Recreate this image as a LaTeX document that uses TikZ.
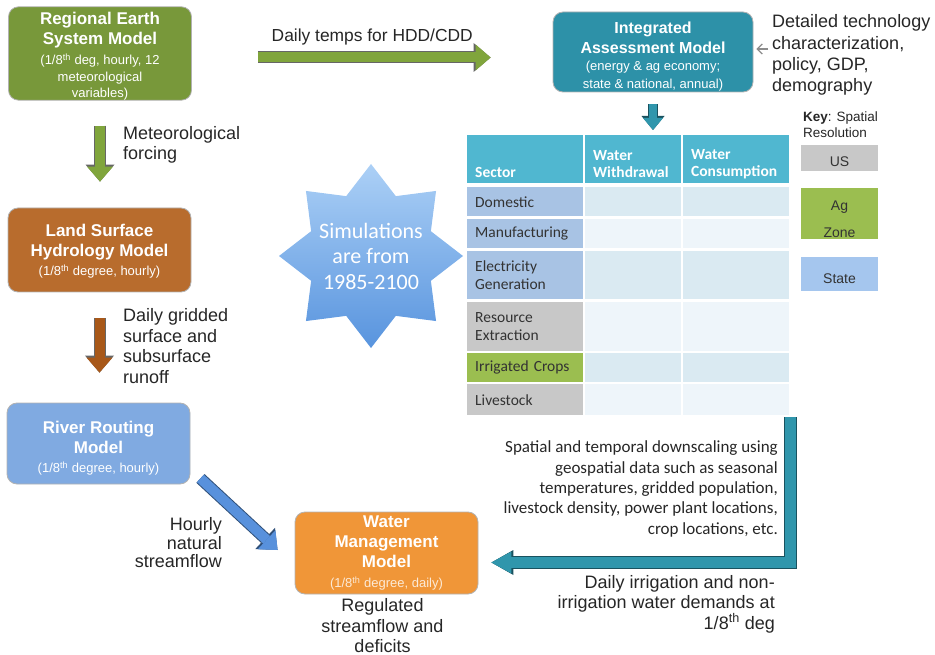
\documentclass[tikz,border=0pt]{standalone}
\usepackage{fontspec}
\setmainfont{Liberation Sans}
\newfontfamily\calibri{Carlito}
\usetikzlibrary{arrows.meta, positioning, shapes.geometric}

\definecolor{resgreen}{RGB}{120,152,58}
\definecolor{lshbrown}{RGB}{184,108,45}
\definecolor{riverblue}{RGB}{128,170,225}
\definecolor{waterorange}{RGB}{240,150,56}
\definecolor{iamteal}{RGB}{45,145,168}
\definecolor{arrowgreen}{RGB}{128,165,60}
\definecolor{arrowbrown}{RGB}{168,88,25}
\definecolor{arrowblue}{RGB}{88,145,220}
\definecolor{arrowteal}{RGB}{48,150,172}
\definecolor{tablehead}{RGB}{80,183,208}
\definecolor{sectorblue}{RGB}{168,195,228}
\definecolor{sectorgray}{RGB}{200,200,200}
\definecolor{sectorgreen}{RGB}{155,190,80}
\definecolor{celldark}{RGB}{218,234,242}
\definecolor{celllight}{RGB}{238,245,250}
\definecolor{keyblue}{RGB}{165,198,238}
\definecolor{starlight}{RGB}{172,208,246}
\definecolor{stardark}{RGB}{88,148,222}

\newcommand{\modelsub}{\fontsize{13}{15.5}\selectfont\mdseries}

\begin{document}
\begin{tikzpicture}[
        x=1pt, y=-1pt,
        model/.style={rectangle, draw=black!30, line width=0.8pt, rounded corners=10pt, text=white, align=center, inner sep=0pt, minimum width=183pt, font=\fontsize{17}{20}\selectfont\bfseries},
        note/.style={inner sep=0pt, text=black!85, font=\fontsize{18}{20.5}\selectfont},
        cal_note/.style={inner sep=0pt, text=black!85, font=\calibri\fontsize{17}{20.3}\selectfont},
        sim_text/.style={align=center, text=white, font=\calibri\fontsize{22}{25.5}\selectfont},
        block_arrow/.style 2 args={draw=#1, line width=10pt, -{Triangle[width=26pt, length=15pt, line width=0pt]}, preaction={draw=#2, line width=12pt, -{Triangle[width=29pt, length=17pt, line width=0pt]}}},
        small_arrow/.style 2 args={draw=#1, line width=8pt, -{Triangle[width=20pt, length=12pt, line width=0pt]}, preaction={draw=#2, line width=10pt, -{Triangle[width=23pt, length=14pt, line width=0pt]}}},
        bent_arrow/.style 2 args={draw=#1, line width=11pt, line join=miter, -{Triangle[width=22pt, length=20pt, line width=0pt]}, preaction={draw=#2, line width=13pt, line join=miter, -{Triangle[width=25pt, length=22pt, line width=0pt]}}},
        head_cell/.style={anchor=north west, fill=tablehead, text=white, align=left, inner xsep=8pt, inner ysep=0pt, minimum height=48pt, font=\calibri\fontsize{15.5}{17}\selectfont\bfseries},
        sector_cell/.style={anchor=north west, align=left, text width=100pt, inner xsep=8pt, inner ysep=0pt, text=black!80, font=\calibri\fontsize{15.5}{18.5}\selectfont},
        data_cell/.style={anchor=north west, inner sep=0pt},
        key_box/.style={rectangle, minimum width=77pt, inner sep=0pt, align=center, text=black!80, font=\fontsize{14}{16}\selectfont}
    ]
        \useasboundingbox (0,0) rectangle (935,655);

        % Model boxes
        \node[model, fill=resgreen, minimum height=93pt] (res_model) at (100,53.5) {\vphantom{R}\\[-14pt]Regional Earth\\System Model\\\modelsub (1/8\textsuperscript{th} deg, hourly, 12\\[-3pt]\modelsub meteorological\\[-4pt]\modelsub variables)};
        \node[model, fill=lshbrown, minimum height=84pt] (lsh_model) at (99.5,250) {\vphantom{L}\\[-16pt]Land Surface\\Hydrology Model\\[-1pt]\modelsub (1/8\textsuperscript{th} degree, hourly)};
        \node[model, fill=riverblue, minimum height=81pt] (river_model) at (98.5,443.5) {\vphantom{R}\\[-10pt]River Routing\\Model\\[-1pt]\modelsub (1/8\textsuperscript{th} degree, hourly)};
        \node[model, fill=waterorange, minimum height=82pt] (water_model) at (386.5,553) {Water\\Management\\Model\\\modelsub\color{white!80!waterorange}(1/8\textsuperscript{th} degree, daily)};
        \node[model, fill=iamteal, minimum width=200pt, minimum height=80pt, font=\fontsize{16}{19.5}\selectfont\bfseries] (iam_model) at (653,52) {\vphantom{I}\\[-10pt]Integrated\\Assessment Model\\[-2pt]\modelsub (energy \& ag economy;\\[-2pt]\modelsub state \& national, annual)};

        % Simulation period star
        \node[star, star points=8, star point ratio=1.42, minimum size=184pt, inner sep=0pt, top color=starlight, bottom color=stardark, draw=none, label={[sim_text]center:Simulations\\are from\\1985-2100}] (sim_star) at (371,256) {};

        % Table header
        \node[head_cell, text width=100pt] (hdr_sector) at (467,135) {\vphantom{W}\\[-8pt]\vphantom{W}\\Sector};
        \node[head_cell, text width=80pt] (hdr_wd) at (585,135) {\vphantom{W}\\[-8pt]Water\\Withdrawal};
        \node[head_cell, text width=90pt] (hdr_cons) at (683,135) {\vphantom{W}\\[-8pt]Water\\Consumption};

        % Sector column
        \node[sector_cell, fill=sectorblue, minimum height=29pt] (sec_domestic) at (467,187) {Domestic};
        \node[sector_cell, fill=sectorblue, minimum height=29pt] (sec_manuf) at (467,219) {Manufacturing};
        \node[sector_cell, fill=sectorblue, minimum height=48pt] (sec_elec) at (467,251) {Electricity\\Generation};
        \node[sector_cell, fill=sectorgray, minimum height=49pt] (sec_resource) at (467,302) {Resource\\Extraction};
        \node[sector_cell, fill=sectorgreen, minimum height=29pt] (sec_irrigated) at (467,353) {Irrigated Crops};
        \node[sector_cell, fill=sectorgray, minimum height=31pt] (sec_livestock) at (467,384) {Livestock};

        % Empty data cells
        \node[data_cell, fill=celldark, minimum width=96pt, minimum height=29pt] (wd_domestic) at (585,187) {};
        \node[data_cell, fill=celldark, minimum width=106pt, minimum height=29pt] (cons_domestic) at (683,187) {};
        \node[data_cell, fill=celllight, minimum width=96pt, minimum height=29pt] (wd_manuf) at (585,219) {};
        \node[data_cell, fill=celllight, minimum width=106pt, minimum height=29pt] (cons_manuf) at (683,219) {};
        \node[data_cell, fill=celldark, minimum width=96pt, minimum height=48pt] (wd_elec) at (585,251) {};
        \node[data_cell, fill=celldark, minimum width=106pt, minimum height=48pt] (cons_elec) at (683,251) {};
        \node[data_cell, fill=celllight, minimum width=96pt, minimum height=49pt] (wd_resource) at (585,302) {};
        \node[data_cell, fill=celllight, minimum width=106pt, minimum height=49pt] (cons_resource) at (683,302) {};
        \node[data_cell, fill=celldark, minimum width=96pt, minimum height=29pt] (wd_irrigated) at (585,353) {};
        \node[data_cell, fill=celldark, minimum width=106pt, minimum height=29pt] (cons_irrigated) at (683,353) {};
        \node[data_cell, fill=celllight, minimum width=96pt, minimum height=31pt] (wd_livestock) at (585,384) {};
        \node[data_cell, fill=celllight, minimum width=106pt, minimum height=31pt] (cons_livestock) at (683,384) {};

        % Key for spatial resolution
        \node[inner sep=0pt, anchor=west, align=left, text=black!85, font=\fontsize{13.5}{16}\selectfont] (key_label) at (803,125) {\textbf{Key}: Spatial\\Resolution};
        \node[key_box, fill=sectorgray, minimum height=26pt] (key_us) at (839.5,158) {\vphantom{U}\\[-8pt]US};
        \node[key_box, fill=sectorgreen, minimum height=51pt] (key_ag) at (839.5,213.5) {\vphantom{A}\\[-4pt]Ag\\[11pt]Zone};
        \node[key_box, fill=keyblue, minimum height=34pt] (key_state) at (839.5,274) {\vphantom{S}\\[-6pt]State};

        % Arrow labels
        \node[note, anchor=west, align=left] (met_label) at (123,145) {Meteorological\\forcing};
        \node[note, anchor=west, align=left] (runoff_label) at (123,346) {Daily gridded\\surface and\\subsurface\\runoff};
        \node[note, anchor=east, align=right, font=\fontsize{18}{18.5}\selectfont] (flow_label) at (222,543) {Hourly\\natural\\streamflow};
        \node[note, align=center, below=4pt of water_model, xshift=-4pt] (reg_label) {Regulated\\streamflow and\\deficits};
        \node[note, anchor=west, align=left, font=\fontsize{18}{21.3}\selectfont] (tech_label) at (772,55) {Detailed technology\\characterization,\\policy, GDP,\\demography};
        \node[cal_note, anchor=east, align=right] (downscale_label) at (778,489) {Spatial and temporal downscaling using\\geospatial data such as seasonal\\temperatures, gridded population,\\livestock density, power plant locations,\\crop locations, etc.};
        \node[note, anchor=east, align=right] (demand_label) at (775,604) {Daily irrigation and non-\\irrigation water demands at\\1/8\textsuperscript{th} deg};

        % Connections
        \draw[block_arrow={arrowgreen}{black!60}, shorten <=66pt, shorten >=62pt] ([yshift=-4pt]res_model.east) -- ([yshift=-4pt]res_model.east -| iam_model.west) node[note, midway, above=7pt, font=\fontsize{17.4}{20}\selectfont] (temps_label) {Daily temps for HDD/CDD};
        \draw[block_arrow={arrowgreen}{black!60}, shorten <=25pt, shorten >=26pt] (res_model.south) -- (res_model.south |- lsh_model.north);
        \draw[block_arrow={arrowbrown}{black!60}, shorten <=26pt, shorten >=30pt] (lsh_model.south) -- (lsh_model.south |- river_model.north);
        \draw[block_arrow={arrowblue}{arrowblue!55!black}] ([shift={(10,-6)}]river_model.south east) -- ([shift={(-17,-3)}]water_model.west);
        \draw[small_arrow={arrowteal}{arrowteal!55!black}, shorten <=12pt, shorten >=5pt] (iam_model.south) -- (iam_model.south |- hdr_wd.north);
        \draw[bent_arrow={arrowteal}{arrowteal!55!black}, shorten >=13pt] ([xshift=1.5pt, yshift=-2pt]cons_livestock.south east) |- ([yshift=-9.5pt]water_model.east);
        \draw[black!45, line width=1.3pt, -{Straight Barb[length=5pt, width=10pt]}, shorten <=4pt, shorten >=3pt] ([yshift=6pt]tech_label.west) -- ([yshift=6pt]tech_label.west -| iam_model.east);

    \end{tikzpicture}
\end{document}
